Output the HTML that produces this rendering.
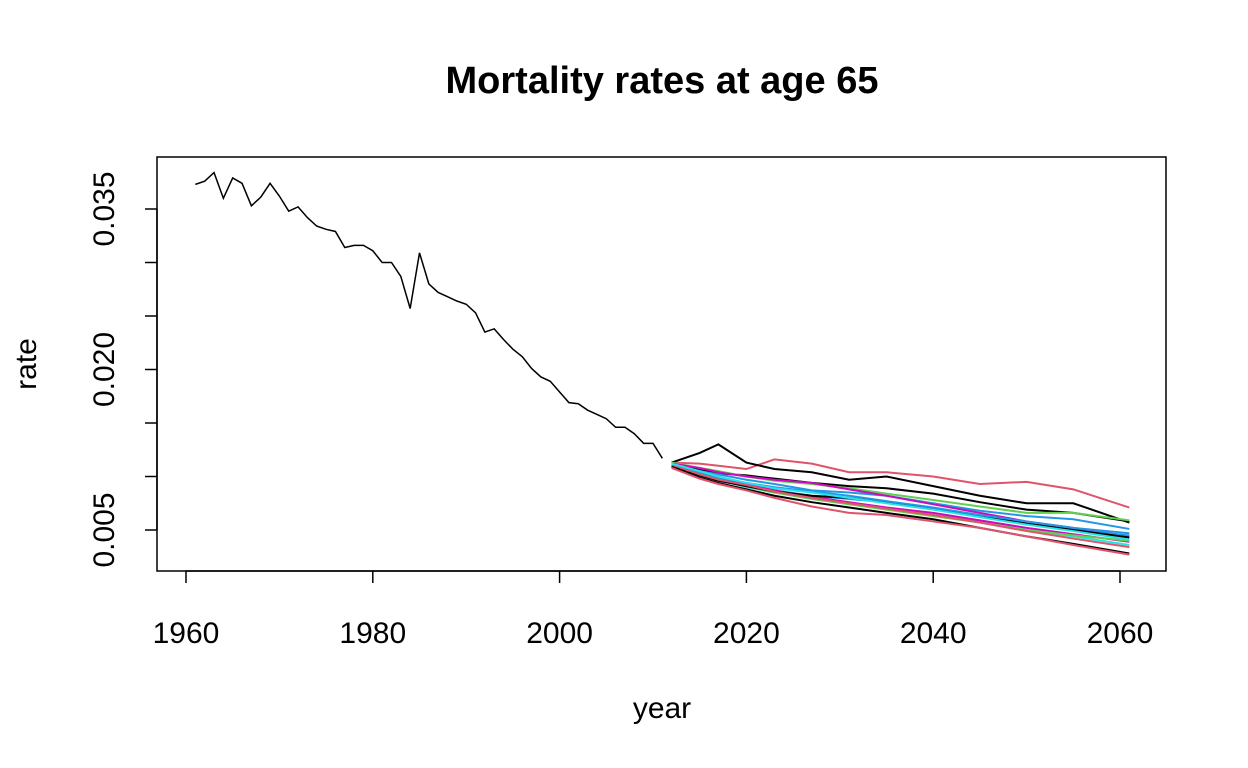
<!DOCTYPE html>
<html><head><meta charset="utf-8"><style>
html,body{margin:0;padding:0;background:#fff;}
svg{display:block;font-family:"Liberation Sans",Arial,sans-serif;}
</style></head><body>
<svg id="chart" width="1248" height="768">
<text x="662" y="93" text-anchor="middle" font-size="38" font-weight="bold">Mortality rates at age 65</text>
<rect x="157" y="157" width="1009" height="414" fill="none" stroke="#000" stroke-width="1.5"/>
<text x="662" y="718" text-anchor="middle" font-size="30">year</text>
<text transform="translate(36,364) rotate(-90)" text-anchor="middle" font-size="30">rate</text>
<g id="axes"></g><g id="marks"></g>
</svg>
<script>
const histYears=[];for(let y=1961;y<=2011;y++)histYears.push(y);
const histValues=[0.0373,0.0376,0.0384,0.0360,0.0379,0.0374,0.0353,0.0361,0.0374,0.0362,0.0348,0.0352,0.0342,0.0334,0.0331,0.0329,0.0314,0.0316,0.0316,0.0311,0.0300,0.0300,0.0287,0.0257,0.0309,0.0280,0.0272,0.0268,0.0264,0.0261,0.0253,0.0235,0.0238,0.0228,0.0219,0.0212,0.0201,0.0193,0.0189,0.0179,0.0169,0.0168,0.0162,0.0158,0.0154,0.0146,0.0146,0.0140,0.0131,0.0131,0.0117];
const simYears=[2012,2015,2017,2020,2023,2027,2031,2035,2040,2045,2050,2055,2061];
const simColors=["#DF536B","#000000","#000000","#61D04F","#2297E6","#CD0BBC","#2297E6","#28E2E5","#CD0BBC","#61D04F","#000000","#000000","#DF536B","#DF536B","#2297E6","#28E2E5"];
const simPaths=[
[0.0113,0.0112,0.0110,0.0107,0.0116,0.0112,0.0104,0.0104,0.0100,0.0093,0.0095,0.0088,0.0071],
[0.0113,0.0122,0.0130,0.0113,0.0107,0.0104,0.0097,0.0100,0.0091,0.0082,0.0075,0.0075,0.0057],
[0.0112,0.0106,0.0103,0.0101,0.0098,0.0094,0.0091,0.0089,0.0084,0.0076,0.0069,0.0066,0.0058],
[0.0113,0.0108,0.0105,0.0100,0.0096,0.0093,0.0089,0.0084,0.0078,0.0072,0.0066,0.0066,0.0059],
[0.0111,0.0105,0.0102,0.0097,0.0093,0.0087,0.0085,0.0082,0.0075,0.0068,0.0063,0.0060,0.0051],
[0.0112,0.0108,0.0104,0.0100,0.0097,0.0094,0.0088,0.0082,0.0074,0.0066,0.0058,0.0052,0.0044],
[0.0110,0.0102,0.0097,0.0092,0.0087,0.0082,0.0079,0.0076,0.0070,0.0063,0.0056,0.0050,0.0045],
[0.0112,0.0103,0.0097,0.0090,0.0085,0.0080,0.0074,0.0070,0.0064,0.0058,0.0050,0.0044,0.0036],
[0.0111,0.0104,0.0099,0.0093,0.0087,0.0081,0.0076,0.0071,0.0066,0.0059,0.0052,0.0046,0.0039],
[0.0111,0.0103,0.0097,0.0091,0.0085,0.0079,0.0074,0.0069,0.0063,0.0057,0.0050,0.0045,0.0040],
[0.0110,0.0101,0.0096,0.0091,0.0086,0.0082,0.0080,0.0076,0.0070,0.0063,0.0056,0.0050,0.0043],
[0.0109,0.0099,0.0094,0.0088,0.0082,0.0076,0.0071,0.0066,0.0060,0.0052,0.0044,0.0037,0.0028],
[0.0108,0.0098,0.0093,0.0087,0.0080,0.0072,0.0066,0.0064,0.0058,0.0052,0.0044,0.0036,0.0027],
[0.0111,0.0102,0.0097,0.0092,0.0086,0.0080,0.0075,0.0070,0.0064,0.0057,0.0049,0.0042,0.0034],
[0.0112,0.0104,0.0099,0.0094,0.0090,0.0086,0.0082,0.0077,0.0071,0.0064,0.0058,0.0052,0.0047],
[0.0112,0.0105,0.0100,0.0094,0.0089,0.0085,0.0080,0.0075,0.0069,0.0062,0.0055,0.0049,0.0041]];
const xTicks=[1960,1980,2000,2020,2040,2060];
const yTicks=[0.005,0.010,0.015,0.020,0.025,0.030,0.035];
const yLabels=["0.005","","","0.020","","","0.035"];

const NS="http://www.w3.org/2000/svg";
function xs(v){return 186+(v-1960)*9.34;}
function ys(v){return 530-(v-0.005)*10700;}
function mk(tag,attrs,parent){const e=document.createElementNS(NS,tag);for(const k in attrs)e.setAttribute(k,attrs[k]);parent.appendChild(e);return e;}
const axes=document.getElementById('axes'),marks=document.getElementById('marks');
mk('line',{x1:xs(1960),x2:xs(2060),y1:571,y2:571,stroke:'#000','stroke-width':1.5},axes);
xTicks.forEach(t=>{
  const l=mk('line',{x1:xs(t),x2:xs(t),y1:571,y2:583,stroke:'#000','stroke-width':1.5},axes);
  
  
  const tx=mk('text',{x:xs(t),y:643,'text-anchor':'middle','font-size':30},axes);
  tx.textContent=t;
  
  
});
mk('line',{x1:157,x2:157,y1:ys(0.005),y2:ys(0.035),stroke:'#000','stroke-width':1.5},axes);
yTicks.forEach((t,i)=>{
  const l=mk('line',{x1:145,x2:157,y1:ys(t),y2:ys(t),stroke:'#000','stroke-width':1.5},axes);
  
  
  if(yLabels[i]){
    const tx=mk('text',{transform:`translate(114,${ys(t)}) rotate(-90)`,'text-anchor':'middle','font-size':30},axes);
    tx.textContent=yLabels[i];
    
    
  }
});
const hp=mk('polyline',{points:histYears.map((y,i)=>xs(y)+','+ys(histValues[i])).join(' '),fill:'none',stroke:'#000','stroke-width':1.5},marks);


simPaths.forEach((p,j)=>{
  const l=mk('polyline',{points:simYears.map((y,i)=>xs(y)+','+ys(p[i])).join(' '),fill:'none',stroke:simColors[j],'stroke-width':2},marks);
  
  
});
</script>
</body></html>
